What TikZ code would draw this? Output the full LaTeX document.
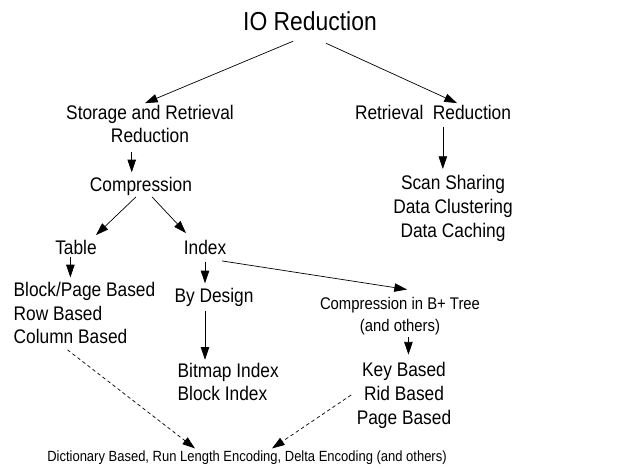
\documentclass[tikz,border=0pt]{standalone}
\usepackage{fontspec}
\setmainfont[FakeStretch=0.88]{Liberation Sans}
\usetikzlibrary{arrows.meta}
\begin{document}
\begin{tikzpicture}[
    x=0.025cm, y=-0.025cm,
    txt/.style={inner sep=1pt, align=center, font=\fontsize{14}{17}\selectfont},
    headtxt/.style={txt, font=\fontsize{18.5}{22}\selectfont},
    smalltxt/.style={txt, font=\fontsize{12}{15.6}\selectfont},
    foottxt/.style={txt, font=\fontsize{10.5}{12}\selectfont},
    arrow/.style={-{Triangle[length=9pt,width=6pt]}, line width=0.5pt},
    dasharrow/.style={arrow, dash pattern=on 2.5pt off 2pt}
]
\useasboundingbox (0,0) rectangle (623,468);

% Top level
\node[headtxt] (io) at (310,21) {IO Reduction};
\node[txt] (stor) at (150,124) {Storage and Retrieval\\Reduction};
\node[txt] (retr) at (433,112) {Retrieval~~Reduction};
\node[txt] (scan) at (453,208) {Scan Sharing\\Data Clustering\\Data Caching};

% Compression
\node[txt] (comp) at (141,186) {Compression};
\node[txt] (table) at (76,247) {Table};
\node[txt] (index) at (205,247) {Index};
\node[txt, anchor=west, align=left] (blockpage) at (12,313) {Block/Page Based\\Row Based\\Column Based};
\node[txt] (bydesign) at (214,297) {By Design};
\node[txt, anchor=west, align=left] (bitmap) at (176,382) {Bitmap Index\\Block Index};
\node[smalltxt] (btree) at (400,316) {Compression in B+ Tree\\(and others)};
\node[txt] (keyb) at (404,395) {Key Based\\Rid Based\\Page Based};

% Encodings
\node[foottxt] (enc) at (247,458) {Dictionary Based, Run Length Encoding, Delta Encoding (and others)};

% Connections
\draw[arrow] ([shift={(-17,9)}]io.south) -- ([shift={(-5,0)}]stor.north);
\draw[arrow] ([shift={(16,11)}]io.south) -- ([shift={(24,0)}]retr.north);
\draw[arrow, shorten <=5pt, shorten >=2pt] ([xshift=-13]stor.south) -- ([xshift=-13]stor.south |- comp.north);
\draw[arrow, shorten <=4pt, shorten >=3pt] ([xshift=7]retr.south) -- ([xshift=7]retr.south |- scan.north);

\draw[arrow] ([shift={(-5,0)}]comp.south) -- ([shift={(20,-3)}]table.north);
\draw[arrow] ([shift={(11,0)}]comp.south) -- ([shift={(-19,-5)}]index.north);
\draw[arrow, shorten <=1pt, shorten >=2pt] ([xshift=-4]table.south) -- ([xshift=-4]table.south |- blockpage.north);
\draw[arrow, shorten <=4pt, shorten >=2pt] (index.south) -- (index.south |- bydesign.north);
\draw[arrow] ([shift={(-6,5)}]index.south east) -- ([shift={(7,-6)}]btree.north);
\draw[arrow, shorten <=2pt, shorten >=1pt] (index.south |- bydesign.south) -- (index.south |- bitmap.north);
\draw[arrow, shorten >=4pt] ([xshift=6]btree.south) -- ([xshift=6]btree.south |- keyb.north);

\draw[dasharrow] ([shift={(-17,4)}]blockpage.south) -- ([shift={(-52,-1)}]enc.north);
\draw[dasharrow] ([shift={(-4,0)}]keyb.west) -- ([shift={(25,-1)}]enc.north);

\end{tikzpicture}
\end{document}
